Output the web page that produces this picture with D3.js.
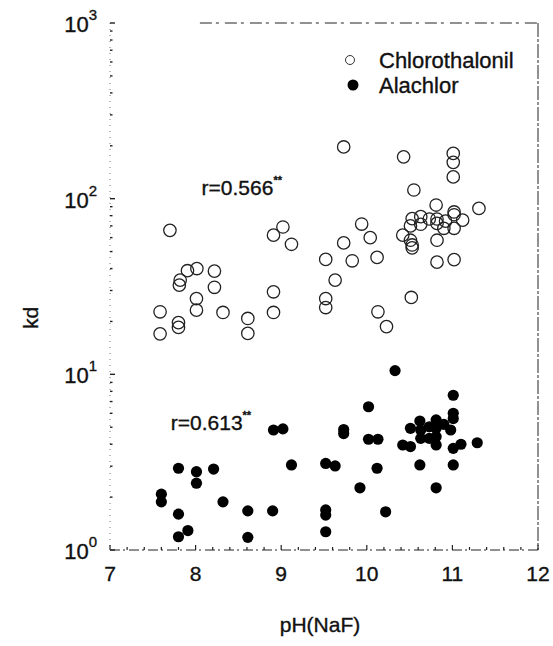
<!DOCTYPE html>
<html><head><meta charset="utf-8">
<script src="https://cdn.jsdelivr.net/npm/d3@7"></script>
<style>body{margin:0;background:#fff}svg{display:block}text{font-family:"Liberation Sans",Arial,sans-serif;fill:#111;stroke:#111;stroke-width:0.35px}</style>
</head><body><svg id="c" width="553" height="646"></svg>
<script>
// Chlorothalonil: [pH(NaF), kd]
const chlorothalonil = [
 [9.73,197],[10.43,173],[11.01,181],[11.01,161],[11.01,133],[10.55,112],
 [7.70,66],[9.02,69],[8.91,62],[9.12,55],
 [7.905,38.9],[8.015,40],[7.82,34.4],[7.81,32.2],[8.22,38.7],[8.22,31.3],[8.01,27],[8.01,23.2],
 [8.32,22.5],[7.585,22.7],[7.585,17],[7.80,19.7],[7.80,18.5],[8.61,20.8],[8.61,17.1],[8.91,29.5],[8.91,22.5],
 [9.94,71.7],[10.04,60],[9.73,56],[9.52,45.1],[9.83,44.3],[10.12,46.3],[9.63,34.4],[9.52,27],[9.52,24],
 [10.13,22.7],[10.23,18.7],[10.52,27.4],
 [10.81,92],[11.31,88],[11.02,84],[11.02,81],[11.12,75.5],[10.63,79],[10.53,77],[10.73,76.6],[10.82,76.6],
 [10.92,74.5],[10.51,70],[10.63,71.5],[10.82,72.3],[11.02,67.8],[10.90,67.8],[10.42,62],[10.51,58],
 [10.53,54.5],[10.53,52.5],[10.82,58],[10.82,43.5],[11.02,45]
];
// Alachlor: [pH(NaF), kd]
const alachlor = [
 [8.91,4.82],[9.02,4.89],[9.12,3.05],[7.80,2.92],[8.01,2.79],[8.01,2.40],[8.21,2.89],[7.60,2.08],[7.60,1.88],
 [8.32,1.88],[7.80,1.60],[8.61,1.67],[8.90,1.67],[7.91,1.29],[7.80,1.19],[8.61,1.18],
 [10.33,10.5],[10.02,6.54],[9.73,4.85],[9.73,4.6],[10.02,4.27],[10.13,4.27],[9.52,3.11],[9.63,3.01],[10.12,2.92],
 [9.92,2.26],[10.22,1.65],[9.52,1.69],[9.52,1.58],[9.52,1.27],[10.81,2.26],
 [11.01,7.6],[11.01,6.0],[11.01,5.6],[10.81,5.5],[10.62,5.42],[10.51,4.93],[10.63,4.82],[10.73,5.03],[10.81,4.93],
 [10.98,4.82],[10.90,5.19],[10.63,4.32],[10.73,4.32],[10.81,4.42],[10.81,3.96],[10.42,3.96],[10.51,3.88],
 [11.10,4.0],[11.01,3.79],[11.29,4.08],[10.62,3.05],[11.01,3.05]
];
const xTicks = [7,8,9,10,11,12];
const yTicks = [1,10,100,1000];
const yExp = ["0","1","2","3"];
const seriesNames = ["Chlorothalonil","Alachlor"];
const rLabels = [{text:"r=0.566", x:8.07, y:105},{text:"r=0.613", x:7.71, y:4.8}];
const xTitle = "pH(NaF)", yTitle = "kd";

const svg = d3.select("#c");
const L=110, R=538, T=23, B=550;
const x = d3.scaleLinear().domain([7,12]).range([L,R]);
const y = d3.scaleLog().domain([1,1000]).range([B,T]);

// frame (scanned, broken lines)
const g = svg.append("g").attr("stroke","#222").attr("fill","none");
g.append("line").attr("x1",L).attr("x2",L).attr("y1",T).attr("y2",B).attr("stroke-width",0.8).attr("stroke-dasharray","1,5").attr("stroke","#555");
g.append("line").attr("x1",L).attr("x2",R).attr("y1",B).attr("y2",B).attr("stroke-width",1).attr("stroke-dasharray","10,3,2,4");
g.append("line").attr("x1",R).attr("x2",R).attr("y1",T).attr("y2",B).attr("stroke-width",1).attr("stroke-dasharray","14,2,3,2");
g.append("line").attr("x1",x(8.05)).attr("x2",R).attr("y1",T).attr("y2",T).attr("stroke-width",1).attr("stroke-dasharray","12,4,3,6");

// y axis minor ticks (log)
const minor = [];
for (let d=1; d<1000; d*=10) for (let k=1;k<=9;k++) minor.push(d*k);
minor.push(1000);
g.selectAll(".ym").data(minor).join("line")
 .attr("x1",L).attr("x2",d=>L+([1,10,100,1000].includes(d)?5:2.5))
 .attr("y1",d=>y(d)).attr("y2",d=>y(d)).attr("stroke-width",1.4).attr("stroke","#222");
// x axis ticks
const xm = d3.range(7,12.01,0.2);
g.selectAll(".xm").data(xm).join("line")
 .attr("x1",d=>x(d)).attr("x2",d=>x(d)).attr("y1",B).attr("y2",d=>B-(Math.abs(d-Math.round(d))<0.01?5:3))
 .attr("stroke-width",1.2);

// tick labels
svg.selectAll(".xl").data(xTicks).join("text")
 .attr("x",d=>x(d)).attr("y",B+31).attr("text-anchor","middle").attr("font-size",21).text(d=>d);
const yl = svg.selectAll(".yl").data(yTicks).join("text")
 .attr("x",L-13).attr("y",d=>y(d)+9).attr("text-anchor","end").attr("font-size",22);
yl.append("tspan").text("10");
yl.append("tspan").attr("dy",-12).attr("font-size",15).text((d,i)=>yExp[i]);

svg.append("text").attr("x",(L+R)/2-4).attr("y",632).attr("text-anchor","middle").attr("font-size",21).text(xTitle);
svg.append("text").attr("transform","translate(38,318) rotate(-90)").attr("text-anchor","middle").attr("font-size",21).text(yTitle);

// r labels
const rl = svg.selectAll(".rl").data(rLabels).join("text")
 .attr("x",d=>x(d.x)).attr("y",d=>y(d.y)).attr("font-size",21);
rl.append("tspan").text(d=>d.text);
rl.append("tspan").attr("dy",-11).attr("font-size",11).attr("font-weight","bold").text("**");

// points
svg.append("g").selectAll("circle").data(chlorothalonil).join("circle")
 .attr("cx",d=>x(d[0])).attr("cy",d=>y(d[1])).attr("r",6.2)
 .attr("fill","none").attr("stroke","#222").attr("stroke-width",1.3);
svg.append("g").selectAll("circle").data(alachlor).join("circle")
 .attr("cx",d=>x(d[0])).attr("cy",d=>y(d[1])).attr("r",5.6).attr("fill","#000");

// legend
const lg = svg.append("g");
lg.append("circle").attr("cx",350).attr("cy",60).attr("r",4.5).attr("fill","none").attr("stroke","#333").attr("stroke-width",1);
lg.append("circle").attr("cx",353).attr("cy",85).attr("r",5.5).attr("fill","#000");
lg.selectAll("text").data(seriesNames).join("text")
 .attr("x",379).attr("y",(d,i)=>60+25*i+7.5).attr("font-size",22).text(d=>d);
</script></body></html>
